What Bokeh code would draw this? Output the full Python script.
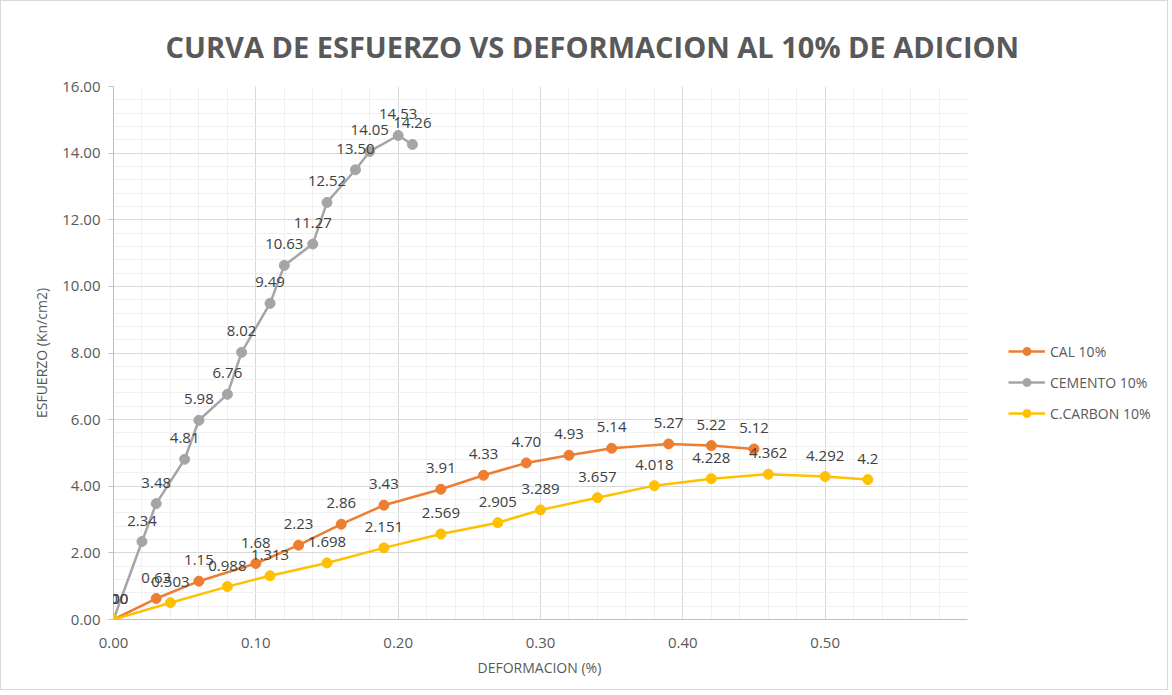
from bokeh.plotting import figure
from bokeh.models import (ColumnDataSource, Range1d, SingleIntervalTicker, PrintfTickFormatter,
                          LabelSet, Legend, LegendItem, Title)
from bokeh.core.properties import value
from bokeh.embed import file_html
from bokeh.resources import INLINE

# ---- data ----
cal_x = [0.00, 0.03, 0.06, 0.10, 0.13, 0.16, 0.19, 0.23, 0.26, 0.29, 0.32, 0.35, 0.39, 0.42, 0.45]
cal_y = [0.00, 0.63, 1.15, 1.68, 2.23, 2.86, 3.43, 3.91, 4.33, 4.70, 4.93, 5.14, 5.27, 5.22, 5.12]

cem_x = [0.00, 0.02, 0.03, 0.05, 0.06, 0.08, 0.09, 0.11, 0.12, 0.14, 0.15, 0.17, 0.18, 0.20, 0.21]
cem_y = [0.00, 2.34, 3.48, 4.81, 5.98, 6.76, 8.02, 9.49, 10.63, 11.27, 12.52, 13.50, 14.05, 14.53, 14.26]

car_x = [0.00, 0.04, 0.08, 0.11, 0.15, 0.19, 0.23, 0.27, 0.30, 0.34, 0.38, 0.42, 0.46, 0.50, 0.53]
car_y = [0, 0.503, 0.988, 1.313, 1.698, 2.151, 2.569, 2.905, 3.289, 3.657, 4.018, 4.228, 4.362, 4.292, 4.2]

series_names = ["CAL 10%", "CEMENTO 10%", "C.CARBON 10%"]
series_colors = ["#ED7D31", "#A5A5A5", "#FFC000"]
title_text = "CURVA DE ESFUERZO VS DEFORMACION AL 10% DE ADICION"
x_title = "DEFORMACION (%)"
y_title = "ESFUERZO (Kn/cm2)"
x_max, y_max = 0.6, 16

FONT = "Open Sans"
W, H = 1168, 690
PLOT_L, PLOT_R, PLOT_T, PLOT_B = 112, 966, 85, 618
# frame extends to the right canvas edge (room for the legend); axis/grid bounded at x_max
x_end = x_max * (W - PLOT_L) / (PLOT_R - PLOT_L)

p = figure(width=W, height=H, output_backend="svg", toolbar_location=None,
           x_range=Range1d(0, x_end), y_range=Range1d(0, y_max),
           min_border_left=PLOT_L, min_border_right=0, min_border_top=PLOT_T,
           min_border_bottom=H - PLOT_B)
p.styles = {"border": "1px solid #d9d9d9"}
p.outline_line_color = None
p.background_fill_color = "white"
p.border_fill_color = "white"

p.title = Title(text=title_text, align="left", offset=52, standoff=42, vertical_align="bottom",
                text_font=FONT, text_font_size="29px", text_font_style="bold",
                text_color="#595959")

p.xaxis.ticker = SingleIntervalTicker(interval=0.1, num_minor_ticks=5)
p.yaxis.ticker = SingleIntervalTicker(interval=2, num_minor_ticks=5)
p.xaxis.formatter = PrintfTickFormatter(format="%.2f")
p.yaxis.formatter = PrintfTickFormatter(format="%.2f")
p.xaxis.bounds = (0, x_max)

for ax in (p.xaxis, p.yaxis):
    ax.axis_line_color = "#bfbfbf"
    ax.major_tick_line_color = "#bfbfbf"
    ax.minor_tick_line_color = None
    ax.major_label_text_font = FONT
    ax.major_label_text_font_size = "15px"
    ax.major_label_text_color = "#595959"
    ax.axis_label_text_font = FONT
    ax.axis_label_text_font_size = "14px"
    ax.axis_label_text_color = "#595959"
    ax.axis_label_text_font_style = "normal"

p.xaxis.major_tick_out = 0
p.xaxis.major_tick_in = 0
p.xaxis.major_label_standoff = 14
p.yaxis.major_tick_out = 5
p.yaxis.major_tick_in = 0
p.yaxis.major_label_standoff = 8
p.yaxis.axis_label = y_title
p.yaxis.axis_label_standoff = 8

# x-axis title centred under the bounded plot area (not the wider frame)
p.add_layout(Title(text=x_title, align="left", offset=364, standoff=14, vertical_align="top",
                   text_font=FONT, text_font_size="14px", text_font_style="normal",
                   text_color="#595959"), "below")

for g in (p.xgrid, p.ygrid):
    g.grid_line_color = "#d9d9d9"
    g.minor_grid_line_color = "#f0f0f0"
p.xgrid.bounds = (0, x_max)
p.ygrid.cross_bounds = (0, x_max)

items = []
datasets = [(cal_x, cal_y, [f"{v:.2f}" for v in cal_y]),
            (cem_x, cem_y, [f"{v:.2f}" for v in cem_y]),
            (car_x, car_y, [f"{v:g}" for v in car_y])]
for (xs, ys, labs), name, color in zip(datasets, series_names, series_colors):
    src = ColumnDataSource(dict(x=xs, y=ys, lab=labs))
    l = p.line("x", "y", source=src, line_color=color, line_width=2.5)
    s = p.scatter("x", "y", source=src, size=10, fill_color=color, line_color=color)
    items.append(LegendItem(label=name, renderers=[l, s]))
    p.add_layout(LabelSet(x="x", y="y", text="lab", source=src, y_offset=21,
                          text_align="center", text_baseline="middle",
                          text_font=value(FONT), text_font_size=value("15px"),
                          text_color="#404040"))

legend = Legend(items=items, location=(1007 - PLOT_L, PLOT_B - 422), orientation="vertical",
                glyph_width=37, glyph_height=20, label_height=20, spacing=11,
                label_standoff=5, padding=0, margin=0,
                label_text_font=FONT, label_text_font_size="14px", label_text_color="#595959",
                background_fill_alpha=0, border_line_color=None)
p.add_layout(legend, "center")

open("out.html", "w").write(file_html(p, INLINE))
